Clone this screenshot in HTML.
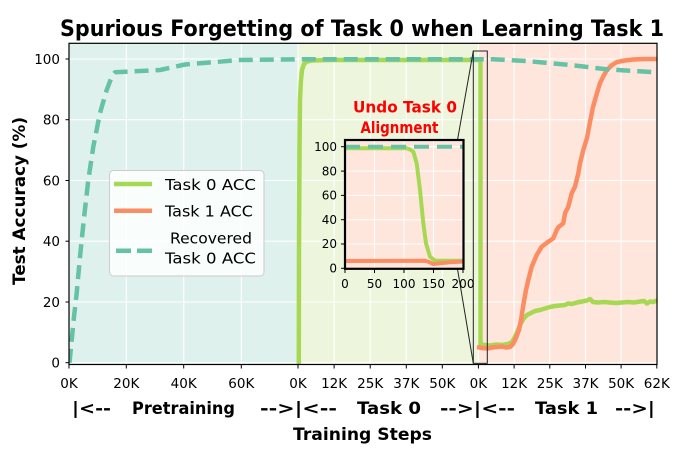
<!DOCTYPE html>
<html><head><meta charset="utf-8">
<style>
html,body{margin:0;padding:0;background:#fff;}
svg{display:block;}
text{font-family:"DejaVu Sans","Liberation Sans",sans-serif;fill:#000;}
</style></head>
<body>
<svg width="698" height="455" viewBox="0 0 698 455" xmlns="http://www.w3.org/2000/svg">
<defs>
<clipPath id="main"><rect x="69" y="43.3" width="588" height="321.2"/></clipPath>
<clipPath id="ins"><rect x="345" y="140" width="118.5" height="128.8"/></clipPath>
</defs>

<!-- title -->
<text x="60" y="36" font-size="22" font-weight="bold" textLength="604" lengthAdjust="spacingAndGlyphs">Spurious Forgetting of Task 0 when Learning Task 1</text>

<!-- backgrounds -->
<rect x="69" y="43.3" width="229" height="321.2" fill="#dff1ec"/>
<rect x="298" y="43.3" width="180.4" height="321.2" fill="#edf6dc"/>
<rect x="478.4" y="43.3" width="178.6" height="321.2" fill="#fee6dd"/>

<!-- grid -->
<g stroke="#fff" stroke-width="1.1">
<line x1="69" x2="657" y1="302" y2="302"/>
<line x1="69" x2="657" y1="241.2" y2="241.2"/>
<line x1="69" x2="657" y1="180.5" y2="180.5"/>
<line x1="69" x2="657" y1="119.7" y2="119.7"/>
<line x1="69" x2="657" y1="59" y2="59"/>
<line x1="69" x2="657" y1="362.7" y2="362.7"/>
<line x1="126.3" x2="126.3" y1="43.3" y2="364.5"/>
<line x1="183.7" x2="183.7" y1="43.3" y2="364.5"/>
<line x1="241.3" x2="241.3" y1="43.3" y2="364.5"/>
<line x1="298" x2="298" y1="43.3" y2="364.5"/>
<line x1="334.1" x2="334.1" y1="43.3" y2="364.5"/>
<line x1="370.2" x2="370.2" y1="43.3" y2="364.5"/>
<line x1="406.3" x2="406.3" y1="43.3" y2="364.5"/>
<line x1="442.3" x2="442.3" y1="43.3" y2="364.5"/>
<line x1="478.4" x2="478.4" y1="43.3" y2="364.5"/>
<line x1="514.1" x2="514.1" y1="43.3" y2="364.5"/>
<line x1="549.8" x2="549.8" y1="43.3" y2="364.5"/>
<line x1="585.5" x2="585.5" y1="43.3" y2="364.5"/>
<line x1="621.1" x2="621.1" y1="43.3" y2="364.5"/>
</g>

<!-- series -->
<g clip-path="url(#main)" fill="none" stroke-linejoin="round">
<polyline stroke="#a6d854" stroke-width="4.5" points="298.8,366 299,250 299.5,150 300,100 300.8,82 302,70 304,64 307,61.5 312,60.5 330,60 480.5,60 480.5,344 484,345 490,345.5 496,344.5 502,345 508,344 512,342 515,337 518,330 521,323 524,318 527,315 531,313 535,311 540,310 545,308.5 550,307 555,306 560,305.5 565,305 568,303.5 572,304 577,302.5 582,301.5 587,300.5 590,299 593,302 598,302.5 604,302 610,302.5 616,303 622,302.5 628,302 634,302.5 640,301.5 644,301 647,303.5 650,301.5 653,302 657,300.5"/>
<polyline stroke="#fc8d62" stroke-width="4.5" points="477,347 482,348 487,348.5 492,347.5 497,347 502,346.5 506,347.5 510,347 513,344 516,338 519,330 521,320 523,307 526,290 528.3,280 531.7,266.7 536.7,255 541.7,246.7 548.3,241.7 553.3,238.3 556.7,230 558.3,227.3 563.3,223.3 565,213.3 568.3,206.7 571.7,193.3 575,186.7 578.3,173.3 580,163.3 583.3,150 587,138 590,122 593,107 597,93 600,83 604,75 607,70 612,65 617,62 625,60.5 633,59.5 645,59 657,59"/>
<polyline stroke="#66c2a5" stroke-width="4.5" stroke-dasharray="14 7" points="69.5,362.7 71.7,340 74,316.7 76.7,293 80,256.7 84,218 88.3,180 93.3,146.7 100,113 106.7,90 112,76 115,72.3 160,70 185,64.5 240,60 298,59.3 478,59.3 493,59.3 526.7,61 570,65 606.7,69.3 657,72.3"/>
</g>

<!-- zoom rect and connectors -->
<g fill="none" stroke="#222" stroke-width="1">
<rect x="473.3" y="51" width="14" height="312.3"/>
<line x1="457.5" y1="140" x2="473.3" y2="51"/>
<line x1="457.5" y1="269" x2="473.3" y2="363.3"/>
</g>

<!-- spines -->
<rect x="69" y="43.3" width="588" height="321.2" fill="none" stroke="#000" stroke-width="1.2"/>

<!-- y ticks -->
<g stroke="#000" stroke-width="1">
<line x1="65.5" x2="69" y1="362.7" y2="362.7"/>
<line x1="65.5" x2="69" y1="302" y2="302"/>
<line x1="65.5" x2="69" y1="241.2" y2="241.2"/>
<line x1="65.5" x2="69" y1="180.5" y2="180.5"/>
<line x1="65.5" x2="69" y1="119.7" y2="119.7"/>
<line x1="65.5" x2="69" y1="59" y2="59"/>
</g>
<g font-size="13.5" text-anchor="end">
<text x="60" y="367.5">0</text>
<text x="60" y="306.8">20</text>
<text x="60" y="246">40</text>
<text x="60" y="185.3">60</text>
<text x="60" y="124.5">80</text>
<text x="60" y="63.8">100</text>
</g>

<!-- x ticks -->
<g stroke="#000" stroke-width="1">
<line x1="69" x2="69" y1="364.5" y2="368.5"/>
<line x1="126.3" x2="126.3" y1="364.5" y2="368.5"/>
<line x1="183.7" x2="183.7" y1="364.5" y2="368.5"/>
<line x1="241.3" x2="241.3" y1="364.5" y2="368.5"/>
<line x1="298" x2="298" y1="364.5" y2="368.5"/>
<line x1="334.1" x2="334.1" y1="364.5" y2="368.5"/>
<line x1="370.2" x2="370.2" y1="364.5" y2="368.5"/>
<line x1="406.3" x2="406.3" y1="364.5" y2="368.5"/>
<line x1="442.3" x2="442.3" y1="364.5" y2="368.5"/>
<line x1="478.4" x2="478.4" y1="364.5" y2="368.5"/>
<line x1="514.1" x2="514.1" y1="364.5" y2="368.5"/>
<line x1="549.8" x2="549.8" y1="364.5" y2="368.5"/>
<line x1="585.5" x2="585.5" y1="364.5" y2="368.5"/>
<line x1="621.1" x2="621.1" y1="364.5" y2="368.5"/>
<line x1="656.8" x2="656.8" y1="364.5" y2="368.5"/>
</g>
<g font-size="13.5" text-anchor="middle">
<text x="69" y="388">0K</text>
<text x="126.3" y="388">20K</text>
<text x="183.7" y="388">40K</text>
<text x="241.3" y="388">60K</text>
<text x="298" y="388">0K</text>
<text x="334.1" y="388">12K</text>
<text x="370.2" y="388">25K</text>
<text x="406.3" y="388">37K</text>
<text x="442.3" y="388">50K</text>
<text x="478.4" y="388">0K</text>
<text x="514.1" y="388">12K</text>
<text x="549.8" y="388">25K</text>
<text x="585.5" y="388">37K</text>
<text x="621.1" y="388">50K</text>
<text x="656.8" y="388">62K</text>
</g>

<!-- segment labels -->
<g font-size="17" font-weight="bold">
<text x="72" y="414" textLength="39" lengthAdjust="spacingAndGlyphs">|&lt;--</text>
<text x="132" y="414" textLength="103" lengthAdjust="spacingAndGlyphs">Pretraining</text>
<text x="260" y="414" textLength="77" lengthAdjust="spacingAndGlyphs">--&gt;|&lt;--</text>
<text x="357" y="414" textLength="64" lengthAdjust="spacingAndGlyphs">Task 0</text>
<text x="440" y="414" textLength="75" lengthAdjust="spacingAndGlyphs">--&gt;|&lt;--</text>
<text x="535" y="414" textLength="63" lengthAdjust="spacingAndGlyphs">Task 1</text>
<text x="615" y="414" textLength="40" lengthAdjust="spacingAndGlyphs">--&gt;|</text>
<text x="293" y="440" textLength="139" lengthAdjust="spacingAndGlyphs">Training Steps</text>
</g>

<!-- y label -->
<text transform="translate(25,201) rotate(-90)" text-anchor="middle" font-size="17" font-weight="bold" textLength="168" lengthAdjust="spacingAndGlyphs">Test Accuracy (%)</text>

<!-- legend -->
<rect x="109.5" y="170.5" width="154.5" height="105.5" rx="4" ry="4" fill="#ffffff" fill-opacity="0.82" stroke="#cccccc" stroke-width="1"/>
<line x1="114" x2="152" y1="184" y2="184" stroke="#a6d854" stroke-width="4.5"/>
<line x1="114" x2="152" y1="210.7" y2="210.7" stroke="#fc8d62" stroke-width="4.5"/>
<line x1="116" x2="152" y1="250.7" y2="250.7" stroke="#66c2a5" stroke-width="4.5" stroke-dasharray="15 6"/>
<g font-size="15">
<text x="165" y="190" textLength="91" lengthAdjust="spacingAndGlyphs">Task 0 ACC</text>
<text x="165" y="216.7" textLength="88" lengthAdjust="spacingAndGlyphs">Task 1 ACC</text>
<text x="170" y="243.3" textLength="82" lengthAdjust="spacingAndGlyphs">Recovered</text>
<text x="165" y="263.3" textLength="91" lengthAdjust="spacingAndGlyphs">Task 0 ACC</text>
</g>

<!-- inset -->
<rect x="345" y="140" width="118.5" height="128.8" fill="#fee6dd"/>
<g stroke="#fff" stroke-width="1">
<line x1="374.5" x2="374.5" y1="140" y2="269"/>
<line x1="404" x2="404" y1="140" y2="269"/>
<line x1="433.5" x2="433.5" y1="140" y2="269"/>
<line x1="345" x2="463.5" y1="244" y2="244"/>
<line x1="345" x2="463.5" y1="219.7" y2="219.7"/>
<line x1="345" x2="463.5" y1="195.4" y2="195.4"/>
<line x1="345" x2="463.5" y1="171.1" y2="171.1"/>
<line x1="345" x2="463.5" y1="146.7" y2="146.7"/>
</g>
<g clip-path="url(#ins)" fill="none" stroke-linejoin="round">
<polyline stroke="#a6d854" stroke-width="4" points="345,148.3 406.7,148.3 410,149.5 413.3,151.7 416.7,163.3 420,190 423.3,223.3 426,243.3 430,256.7 435,260.7 463.5,260.7"/>
<polyline stroke="#fc8d62" stroke-width="4" points="345,261 425,260.7 429,262 433,264 440,263.3 450,262.3 463.5,261.5"/>
<line stroke="#66c2a5" stroke-width="4" stroke-dasharray="15 8" x1="345" x2="463.5" y1="146.7" y2="146.7"/>
</g>
<rect x="345" y="140" width="118.5" height="128.8" fill="none" stroke="#000" stroke-width="2.2"/>
<g stroke="#000" stroke-width="1">
<line x1="341" x2="345" y1="268.3" y2="268.3"/>
<line x1="341" x2="345" y1="244" y2="244"/>
<line x1="341" x2="345" y1="219.7" y2="219.7"/>
<line x1="341" x2="345" y1="195.4" y2="195.4"/>
<line x1="341" x2="345" y1="171.1" y2="171.1"/>
<line x1="341" x2="345" y1="146.7" y2="146.7"/>
<line x1="345" x2="345" y1="269" y2="273"/>
<line x1="374.5" x2="374.5" y1="269" y2="273"/>
<line x1="404" x2="404" y1="269" y2="273"/>
<line x1="433.5" x2="433.5" y1="269" y2="273"/>
<line x1="463" x2="463" y1="269" y2="273"/>
</g>
<g font-size="12" text-anchor="end">
<text x="337" y="272.5">0</text>
<text x="337" y="248.2">20</text>
<text x="337" y="223.9">40</text>
<text x="337" y="199.6">60</text>
<text x="337" y="175.3">80</text>
<text x="337" y="151">100</text>
</g>
<g font-size="12" text-anchor="middle">
<text x="345" y="288">0</text>
<text x="374.5" y="288">50</text>
<text x="404" y="288">100</text>
<text x="433.5" y="288">150</text>
<text x="463" y="288">200</text>
</g>
<g font-size="16" font-weight="bold" text-anchor="middle">
<text x="405" y="112.7" textLength="104" lengthAdjust="spacingAndGlyphs" style="fill:#ff0000">Undo Task 0</text>
<text x="399.5" y="133" textLength="78" lengthAdjust="spacingAndGlyphs" style="fill:#ff0000">Alignment</text>
</g>
</svg>
</body></html>
